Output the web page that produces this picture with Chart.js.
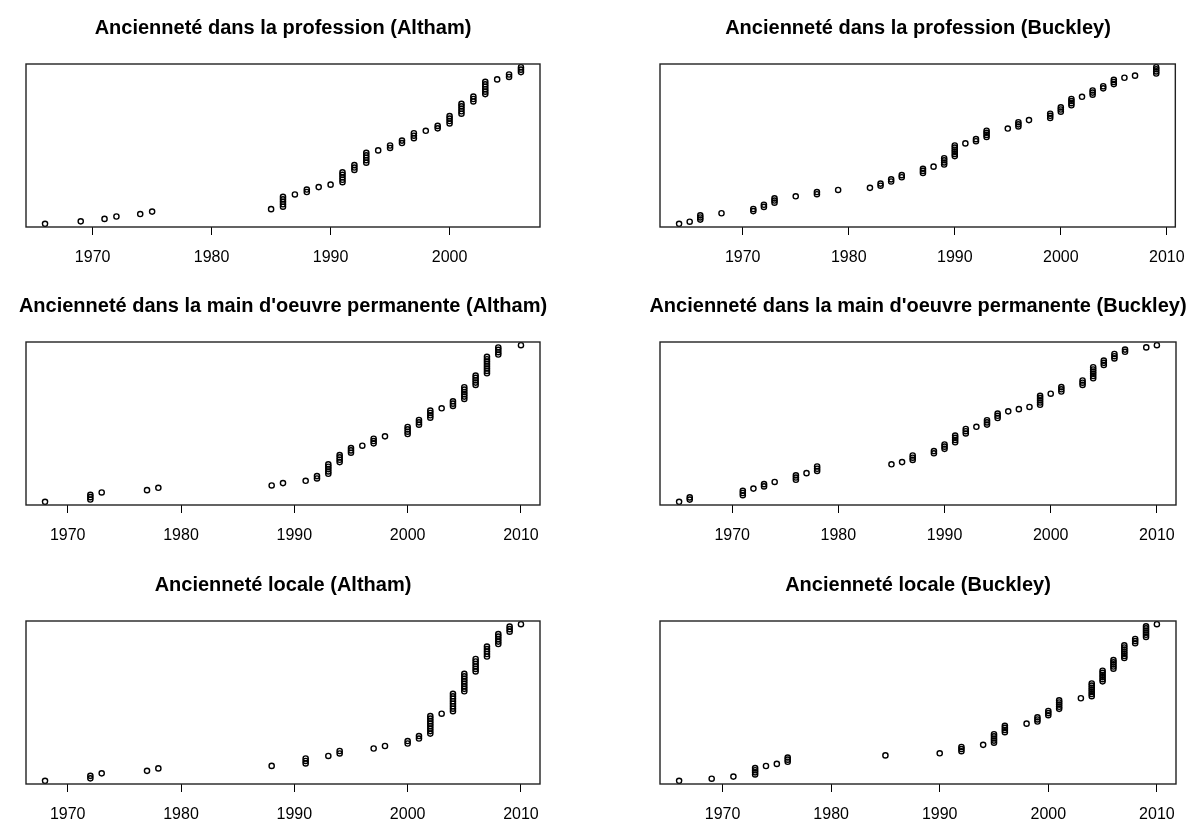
<!DOCTYPE html>
<html lang="fr">
<head>
<meta charset="utf-8">
<title>Ancienneté</title>
<script src="https://cdn.jsdelivr.net/npm/chart.js@4.4.1/dist/chart.umd.min.js"></script>
<style>
  html, body { margin: 0; padding: 0; background: #fff; overflow: hidden; }
  body { width: 1196px; height: 823px; position: relative; }
  canvas { position: absolute; }
</style>
</head>
<body>
<canvas id="c1"></canvas>
<canvas id="c2"></canvas>
<canvas id="c3"></canvas>
<canvas id="c4"></canvas>
<canvas id="c5"></canvas>
<canvas id="c6"></canvas>
<script>
// titres
const titres = [
    "Ancienneté dans la profession (Altham)",
    "Ancienneté dans la profession (Buckley)",
    "Ancienneté dans la main d'oeuvre permanente (Altham)",
    "Ancienneté dans la main d'oeuvre permanente (Buckley)",
    "Ancienneté locale (Altham)",
    "Ancienneté locale (Buckley)"
];

// années et nombre de personnes par année
const professionAlthamAnnees = [1966, 1969, 1971, 1972, 1974, 1975, 1985, 1986, 1987, 1988, 1989, 1990, 1991, 1992, 1993, 1994, 1995, 1996, 1997, 1998, 1999, 2000, 2001, 2002, 2003, 2004, 2005, 2006];
const professionAlthamNombre = [1, 1, 1, 1, 1, 1, 1, 5, 1, 2, 1, 1, 5, 3, 5, 1, 2, 2, 3, 1, 2, 4, 5, 3, 6, 1, 2, 3];

const professionBuckleyAnnees = [1964, 1965, 1966, 1968, 1971, 1972, 1973, 1975, 1977, 1979, 1982, 1983, 1984, 1985, 1987, 1988, 1989, 1990, 1991, 1992, 1993, 1995, 1996, 1997, 1999, 2000, 2001, 2002, 2003, 2004, 2005, 2006, 2007, 2009];
const professionBuckleyNombre = [1, 1, 3, 1, 2, 2, 3, 1, 2, 1, 1, 2, 2, 2, 3, 1, 4, 6, 1, 2, 4, 1, 3, 1, 3, 3, 4, 1, 3, 2, 3, 1, 1, 4];

const permanenteAlthamAnnees = [1968, 1972, 1973, 1977, 1978, 1988, 1989, 1991, 1992, 1993, 1994, 1995, 1996, 1997, 1998, 2000, 2001, 2002, 2003, 2004, 2005, 2006, 2007, 2008, 2010];
const permanenteAlthamNombre = [1, 3, 1, 1, 1, 1, 1, 1, 2, 5, 4, 3, 1, 3, 1, 4, 3, 4, 1, 3, 6, 5, 8, 4, 1];

const permanenteBuckleyAnnees = [1965, 1966, 1971, 1972, 1973, 1974, 1976, 1977, 1978, 1985, 1986, 1987, 1989, 1990, 1991, 1992, 1993, 1994, 1995, 1996, 1997, 1998, 1999, 2000, 2001, 2003, 2004, 2005, 2006, 2007, 2009, 2010];
const permanenteBuckleyNombre = [1, 2, 3, 1, 2, 1, 3, 1, 3, 1, 1, 3, 2, 3, 4, 3, 1, 3, 3, 1, 1, 1, 5, 1, 3, 3, 6, 3, 3, 2, 1, 1];

const localeAlthamAnnees = [1968, 1972, 1973, 1977, 1978, 1988, 1991, 1993, 1994, 1997, 1998, 2000, 2001, 2002, 2003, 2004, 2005, 2006, 2007, 2008, 2009, 2010];
const localeAlthamNombre = [1, 2, 1, 1, 1, 1, 3, 1, 2, 1, 1, 2, 2, 8, 1, 8, 8, 6, 5, 5, 3, 1];

const localeBuckleyAnnees = [1966, 1969, 1971, 1973, 1974, 1975, 1976, 1985, 1990, 1992, 1994, 1995, 1996, 1998, 1999, 2000, 2001, 2003, 2004, 2005, 2006, 2007, 2008, 2009, 2010];
const localeBuckleyNombre = [1, 1, 1, 4, 1, 1, 3, 1, 1, 3, 1, 5, 4, 1, 3, 3, 5, 1, 7, 6, 5, 7, 3, 6, 1];

// graduations de l'axe x
const graduationsCourtes = [1970, 1980, 1990, 2000];
const graduations = [1970, 1980, 1990, 2000, 2010];

const police = "'Liberation Sans', Arial, Helvetica, sans-serif";

// cadre autour de la zone du graphique
const cadre = {
    id: "cadre",
    afterDraw(chart) {
        const { ctx, chartArea: a } = chart;
        ctx.save();
        ctx.strokeStyle = "#222";
        ctx.lineWidth = 1.4;
        ctx.strokeRect(a.left, a.top, a.right - a.left, a.bottom - a.top);
        ctx.restore();
    }
};

const panneaux = [
    { id: "c1", titre: titres[0], annees: professionAlthamAnnees, nombre: professionAlthamNombre, grad: graduationsCourtes, left: 0, top: 0, width: 566, marge: 26 },
    { id: "c2", titre: titres[1], annees: professionBuckleyAnnees, nombre: professionBuckleyNombre, grad: graduations, left: 638, top: 0, width: 560, marge: 22 },
    { id: "c3", titre: titres[2], annees: permanenteAlthamAnnees, nombre: permanenteAlthamNombre, grad: graduations, left: 0, top: 278, width: 566, marge: 26 },
    { id: "c4", titre: titres[3], annees: permanenteBuckleyAnnees, nombre: permanenteBuckleyNombre, grad: graduations, left: 638, top: 278, width: 560, marge: 22 },
    { id: "c5", titre: titres[4], annees: localeAlthamAnnees, nombre: localeAlthamNombre, grad: graduations, left: 0, top: 557, width: 566, marge: 26 },
    { id: "c6", titre: titres[5], annees: localeBuckleyAnnees, nombre: localeBuckleyNombre, grad: graduations, left: 638, top: 557, width: 560, marge: 22 }
];

const dessiner = (p) => {
    // un point par personne, trié par année
    const points = [];
    p.annees.forEach((annee, i) => {
        for (let k = 0; k < p.nombre[i]; k++) {
            points.push({ x: annee, y: points.length + 1 });
        }
    });
    const n = points.length;
    const xmin = p.annees[0];
    const xmax = p.annees[p.annees.length - 1];
    const dx = (xmax - xmin) * 0.04;
    const dy = n * 0.02;

    const canvas = document.getElementById(p.id);
    canvas.width = p.width;
    canvas.height = 274;
    canvas.style.left = p.left + "px";
    canvas.style.top = p.top + "px";

    const cacheY = (position) => ({
        type: "linear",
        position: position,
        min: 1 - dy,
        max: n + dy,
        afterFit: (axe) => { axe.width = p.marge; },
        grid: { display: false },
        border: { display: false },
        ticks: { display: false }
    });

    new Chart(canvas.getContext("2d"), {
        type: "scatter",
        data: {
            datasets: [{
                data: points,
                pointStyle: "circle",
                pointRadius: 2.6,
                pointHoverRadius: 2.6,
                pointBorderWidth: 1.4,
                pointBorderColor: "#000",
                pointBackgroundColor: "rgba(0,0,0,0)",
                borderColor: "#000",
                backgroundColor: "rgba(0,0,0,0)"
            }]
        },
        options: {
            responsive: false,
            animation: false,
            devicePixelRatio: 1,
            layout: { padding: 0 },
            events: [],
            plugins: {
                legend: { display: false },
                tooltip: { enabled: false },
                title: {
                    display: true,
                    text: p.titre,
                    color: "#000",
                    font: { family: police, size: 20, weight: "bold" },
                    padding: { top: 16, bottom: 24 }
                }
            },
            scales: {
                x: {
                    type: "linear",
                    position: "bottom",
                    min: xmin - dx,
                    max: xmax + dx,
                    afterBuildTicks: (axe) => { axe.ticks = p.grad.map((v) => ({ value: v })); },
                    afterFit: (axe) => { axe.height = 47; },
                    grid: { display: true, drawOnChartArea: false, drawTicks: true, tickLength: 8, color: "#000", lineWidth: 1 },
                    border: { display: false },
                    ticks: {
                        color: "#000",
                        font: { family: police, size: 16 },
                        padding: 13,
                        maxRotation: 0,
                        autoSkip: false,
                        callback: (v) => String(v)
                    }
                },
                y: cacheY("left"),
                y2: cacheY("right")
            }
        },
        plugins: [cadre]
    });
};

panneaux.forEach(dessiner);
</script>
</body>
</html>
